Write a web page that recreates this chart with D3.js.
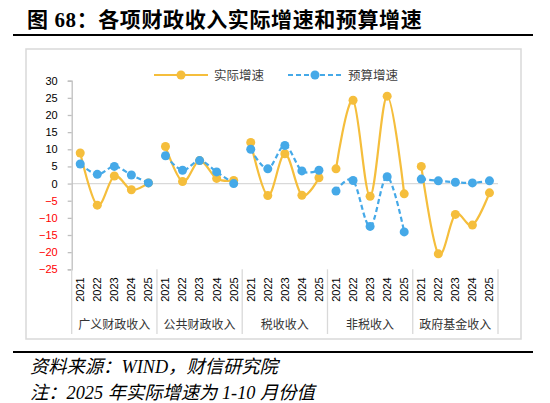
<!DOCTYPE html>
<html>
<head>
<meta charset="utf-8">
<script src="https://cdn.jsdelivr.net/npm/d3@7"></script>
<style>
  body { margin: 0; background: #fff; }
  svg { display: block; }
</style>
</head>
<body>
<div id="chart"></div>
<script>
// data
var groups = ["广义财政收入", "公共财政收入", "税收收入", "非税收入", "政府基金收入"];
var years = ["2021", "2022", "2023", "2024", "2025"];
var yTicks = [-25, -20, -15, -10, -5, 0, 5, 10, 15, 20, 25, 30];

// 实际增速, per group
var actual = [
  [8.9, -6.3, 2.2, -1.8, 0.2],
  [10.8, 0.6, 6.7, 1.5, 0.9],
  [12.0, -3.5, 8.7, -3.4, 1.7],
  [4.3, 24.3, -3.7, 25.5, -3.0],
  [5.0, -20.5, -9.0, -12.1, -2.7]
];
// 预算增速, per group
var budget = [
  [5.7, 2.7, 5.0, 2.5, 0.2],
  [8.1, 3.9, 6.7, 3.4, 0.0],
  [10.0, 4.3, 11.1, 3.7, 3.9],
  [-2.2, 0.9, -12.5, 2.0, -14.1],
  [1.3, 0.8, 0.4, 0.2, 0.8]
];

var W = 550, H = 403;
var yellow = "#F5BE3C", blue = "#45A9E8", grid = "#D9D9D9";
var cjk = "'Noto Sans CJK SC', sans-serif";

var svg = d3.select("#chart").append("svg")
    .attr("width", W)
    .attr("height", H);

// title + rules
svg.append("text")
    .attr("x", 27).attr("y", 27)
    .attr("font-family", "'Liberation Serif', 'Noto Sans CJK SC', serif")
    .attr("font-weight", "bold")
    .attr("font-size", 21)
    .attr("letter-spacing", 0.6)
    .attr("fill", "#000")
    .text("图 68：各项财政收入实际增速和预算增速");
svg.append("line")
    .attr("x1", 13).attr("x2", 533).attr("y1", 35).attr("y2", 35)
    .attr("stroke", "#000").attr("stroke-width", 2);
svg.append("line")
    .attr("x1", 13).attr("x2", 533).attr("y1", 352).attr("y2", 352)
    .attr("stroke", "#000").attr("stroke-width", 2);

// chart frame
svg.append("rect")
    .attr("x", 26).attr("y", 49).attr("width", 495).attr("height", 290)
    .attr("fill", "none").attr("stroke", grid).attr("stroke-width", 1.5);

// footnotes
var foot = svg.append("g")
    .attr("font-family", "'Liberation Serif', 'Noto Sans CJK SC', serif")
    .attr("font-style", "italic")
    .attr("font-size", 18.3)
    .attr("fill", "#000");
foot.append("text").attr("x", 30).attr("y", 373).text("资料来源：WIND，财信研究院");
foot.append("text").attr("x", 30).attr("y", 399).text("注：2025 年实际增速为 1-10 月份值");

// scales
var idx = d3.range(groups.length * years.length);
var x = d3.scaleBand()
    .domain(idx)
    .range([71.7, 498]);
var y = d3.scaleLinear()
    .domain([-25, 30])
    .range([269.3, 80.7]);

// zero line
svg.append("line")
    .attr("x1", x.range()[0]).attr("x2", x.range()[1])
    .attr("y1", y(0)).attr("y2", y(0))
    .attr("stroke", grid).attr("stroke-width", 1.3);

// Y axis
var yAxis = svg.append("g")
    .attr("transform", "translate(" + x.range()[0] + ",0)")
    .call(d3.axisLeft(y).tickValues(yTicks).tickSize(4).tickPadding(10));
yAxis.select(".domain").attr("stroke", "#BFBFBF").attr("stroke-width", 1.3);
yAxis.selectAll(".tick line").attr("stroke", "#BFBFBF").attr("stroke-width", 1.3);
yAxis.selectAll(".tick text")
    .attr("font-family", "'Liberation Sans', sans-serif")
    .attr("font-size", 11)
    .attr("fill", function(d) { return d < 0 ? "#FF0000" : "#000"; });

// X axis: years rotated, then group names
var xAxis = svg.append("g")
    .attr("transform", "translate(0," + y(-25) + ")")
    .call(d3.axisBottom(x).tickSize(0).tickFormat(function(i) { return years[i % years.length]; }));
xAxis.select(".domain").remove();
xAxis.selectAll(".tick text")
    .attr("font-family", "'Liberation Sans', sans-serif")
    .attr("font-size", 11)
    .attr("fill", "#000")
    .attr("transform", "rotate(-90)")
    .attr("text-anchor", "end")
    .attr("x", -8)
    .attr("y", 0)
    .attr("dy", "0.35em");

// group separators
d3.range(groups.length + 1).forEach(function(g) {
  var sx = g < groups.length ? x(g * years.length) : x.range()[1];
  svg.append("line")
      .attr("x1", sx).attr("x2", sx)
      .attr("y1", y(-25)).attr("y2", 334)
      .attr("stroke", grid).attr("stroke-width", 1.3);
});

svg.append("g").selectAll("text")
  .data(groups)
  .enter().append("text")
    .attr("x", function(d, g) { return x(g * years.length) + x.bandwidth() * years.length / 2; })
    .attr("y", 329)
    .attr("text-anchor", "middle")
    .attr("font-family", cjk)
    .attr("font-size", 12)
    .attr("fill", "#333")
    .text(function(d) { return d; });

// lines, one path per group so groups are not joined
var line = d3.line()
    .x(function(d) { return x(d.i) + x.bandwidth() / 2; })
    .y(function(d) { return y(d.v); })
    .curve(d3.curveCardinal.tension(0));

function drawSeries(series, color, dash) {
  series.forEach(function(vals, g) {
    var pts = vals.map(function(v, k) { return {i: g * years.length + k, v: v}; });
    svg.append("path")
        .datum(pts)
        .attr("fill", "none")
        .attr("stroke", color)
        .attr("stroke-width", 2.2)
        .attr("stroke-dasharray", dash)
        .attr("d", line);
    svg.append("g").selectAll("circle")
      .data(pts)
      .enter().append("circle")
        .attr("cx", function(d) { return x(d.i) + x.bandwidth() / 2; })
        .attr("cy", function(d) { return y(d.v); })
        .attr("r", 4.5)
        .attr("fill", color);
  });
}
drawSeries(actual, yellow, null);
drawSeries(budget, blue, "5,3");

// legend
var legend = svg.append("g")
    .attr("font-family", cjk)
    .attr("font-size", 12.5)
    .attr("fill", "#404040");
[{name: "实际增速", color: yellow, dash: null, x0: 154},
 {name: "预算增速", color: blue, dash: "5,3", x0: 288}].forEach(function(s) {
  legend.append("line")
      .attr("x1", s.x0).attr("x2", s.x0 + 54)
      .attr("y1", 75).attr("y2", 75)
      .attr("stroke", s.color).attr("stroke-width", 2.2)
      .attr("stroke-dasharray", s.dash);
  legend.append("circle")
      .attr("cx", s.x0 + 27).attr("cy", 75).attr("r", 4.5)
      .attr("fill", s.color);
  legend.append("text")
      .attr("x", s.x0 + 60).attr("y", 75)
      .attr("dy", "0.36em")
      .text(s.name);
});
</script>
</body>
</html>
